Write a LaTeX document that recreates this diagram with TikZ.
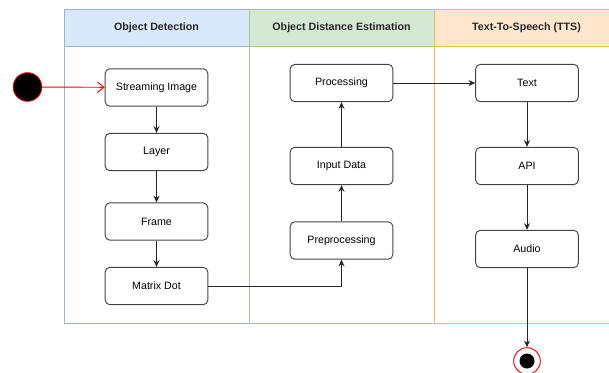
\documentclass[tikz,border=0pt]{standalone}
\usepackage{fontspec}
\setmainfont{Liberation Sans}
\usetikzlibrary{arrows.meta,positioning}

\definecolor{odfill}{HTML}{DAE8FC}
\definecolor{odline}{HTML}{9AB3DA}
\definecolor{defill}{HTML}{D5E8D4}
\definecolor{deline}{HTML}{A3C98D}
\definecolor{ttsfill}{HTML}{FFE6CC}
\definecolor{ttsline}{HTML}{E5BE5A}
\definecolor{boxline}{HTML}{444444}

\tikzset{
  stepbox/.style={draw=boxline, line width=0.7pt, rounded corners=3.5pt, fill=white,
    minimum width=77pt, minimum height=28pt, font=\fontsize{8}{10}\selectfont},
  lanehead/.style={font=\bfseries\fontsize{8}{10}\selectfont, text=black!85},
  laneline/.style={line width=0.7pt},
  flow/.style={-{Stealth[length=5pt,width=4.5pt]}, black!85, line width=0.7pt},
}

\begin{document}
\begin{tikzpicture}[x=0.75pt, y=-0.75pt]
    \useasboundingbox (0,0) rectangle (609,372);

    % Lanes
    \draw[odline, laneline] (64,9) rectangle (249,323);
    \draw[odline, laneline, fill=odfill] (64,9) rectangle (249,46);
    \draw[deline, laneline] (249,9) rectangle (434,323);
    \draw[deline, laneline, fill=defill] (249,9) rectangle (434,46);
    \draw[ttsline, laneline] (434,9) rectangle (625,323);
    \draw[ttsline, laneline, fill=ttsfill] (434,9) rectangle (625,46);
    \node[lanehead] (hdet) at (156.5,27.5) {Object Detection};
    \node[lanehead] (hdist) at (341.5,27.5) {Object Distance Estimation};
    \node[lanehead] (htts) at (526.5,27.5) {Text-To-Speech (TTS)};

    % Object Detection
    \node[stepbox] (stream) at (156.5,87.5) {Streaming Image};
    \node[stepbox] (layer) at (156.5,152) {Layer};
    \node[stepbox] (frame) at (156.5,221.5) {Frame};
    \node[stepbox] (matrix) at (156.5,286) {Matrix Dot};

    % Object Distance Estimation
    \node[stepbox] (proc) at (341.5,83) {Processing};
    \node[stepbox] (input) at (341.5,166) {Input Data};
    \node[stepbox] (preproc) at (341.5,240.5) {Preprocessing};

    % Text-To-Speech
    \node[stepbox] (text) at (527,83) {Text};
    \node[stepbox] (api) at (527,166) {API};
    \node[stepbox] (audio) at (527,249) {Audio};

    % Start and end
    \node[circle, fill=black, draw=red, line width=0.6pt, minimum size=21.5pt, inner sep=0pt] (start) at (27.5,87) {};
    \node[circle, draw=red, line width=0.7pt, minimum size=20pt, inner sep=0pt] (stop) at (527,361) {};
    \fill[black] (stop.center) circle (7.5);

    % Connectors
    \draw[red, line width=0.7pt, -{Straight Barb[length=5pt,width=8pt]}] (start) -- (stream);
    \draw[flow] (stream) -- (layer);
    \draw[flow] (layer) -- (frame);
    \draw[flow] (frame) -- (matrix);
    \draw[flow] (matrix) -| (preproc);
    \draw[flow] (preproc) -- (input);
    \draw[flow] (input) -- (proc);
    \draw[flow] (proc) -- (text);
    \draw[flow] (text) -- (api);
    \draw[flow] (api) -- (audio);
    \draw[flow] (audio) -- (stop);
\end{tikzpicture}
\end{document}
